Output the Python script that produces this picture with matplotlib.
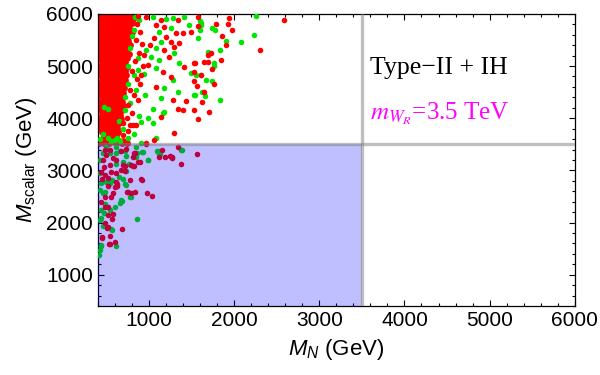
import numpy as np
import matplotlib as mpl
mpl.use("Agg")
import matplotlib.pyplot as plt
from matplotlib.ticker import MultipleLocator

# W_R mass bound (GeV), used for the excluded box and guide lines
mwr = 3500.0
xlim = (400, 6000)
ylim = (400, 6000)

# dense red cluster at small M_N, rows of (M_scalar, [M_N values])
red_dense_rows = [
    (5985, [410, 460, 515, 570, 625, 680, 735, 790, 835]),
    (5905, [430, 485, 540, 600, 650, 705, 760, 810]),
    (5820, [410, 465, 520, 575, 630, 685, 740, 800]),
    (5735, [435, 490, 545, 600, 655, 710, 770]),
    (5655, [415, 470, 525, 580, 635, 690, 745, 800]),
    (5570, [440, 495, 550, 605, 660, 715, 770]),
    (5485, [420, 475, 530, 585, 640, 695, 750]),
    (5400, [445, 500, 555, 610, 665, 720, 775]),
    (5320, [415, 470, 525, 580, 635, 690, 740]),
    (5235, [440, 495, 550, 605, 660, 715, 765]),
    (5150, [420, 475, 530, 585, 640, 695, 745]),
    (5070, [445, 500, 555, 610, 665, 720]),
    (4985, [415, 470, 525, 580, 635, 690, 740]),
    (4900, [440, 495, 550, 605, 660, 715]),
    (4820, [420, 475, 530, 585, 640, 695, 735]),
    (4735, [445, 500, 555, 610, 665, 715]),
    (4650, [415, 470, 525, 580, 635, 690]),
    (4570, [440, 495, 550, 605, 660, 710]),
    (4485, [420, 475, 530, 585, 640, 690]),
    (4400, [445, 500, 555, 610, 665, 700]),
    (4320, [415, 470, 525, 580, 635, 685]),
    (4235, [440, 495, 550, 605, 655, 690]),
    (4150, [420, 475, 530, 585, 635, 680]),
    (4070, [445, 500, 555, 610, 660]),
    (3985, [415, 470, 525, 580, 630, 670]),
    (3900, [440, 495, 550, 600, 650]),
    (3820, [420, 475, 530, 585, 625]),
    (3735, [445, 500, 555, 600, 640]),
    (3650, [470, 525, 575, 615]),
    (3570, [440, 500, 550, 590, 650, 700]),
    (3525, [410, 470, 530, 610, 680, 740]),
]

# scattered red points (M_N, M_scalar)
red_x = [1940, 2582, 1579, 1789, 1929, 1976, 1859, 1906, 2302, 1727, 1691,
         1843, 1544, 1649, 1695, 1742, 1532, 1765, 1532, 1567, 1649, 1625,
         1707, 1579,
         870, 968, 1084, 1143, 1337, 1571, 1182, 1318, 1396, 1493, 1201,
         1065, 1259, 1357, 1007, 1182, 1299, 948, 1240, 1415, 1532, 987,
         1162, 910, 1259, 1610,
         1084, 1435, 1532, 1396, 1337, 1279, 1143, 851, 812, 775, 1299,
         1065, 968,
         860, 900, 850, 920, 880, 840, 930, 800, 860, 900, 780, 820, 870,
         760, 800, 740, 700, 760, 690,
         # below the bound
         1337, 1563, 1376, 1267, 1194, 1124, 1155, 832, 870, 823, 910, 979,
         1037, 839, 785, 754, 688, 695, 715, 781, 625, 579, 579, 520, 482,
         570, 520, 450, 540, 598, 540,
         482, 540, 676, 727, 820, 1253, 1271, 890, 793, 812, 723, 676, 610,
         552, 489, 520, 610, 921, 454, 520, 629, 746, 489, 559, 443, 482,
         520, 513, 454, 532, 812, 618, 462, 540, 443, 579, 501, 470, 598,
         968]
red_y = [5930, 5885, 5776, 5808, 5808, 5693, 5578, 5405, 5310, 5246, 5208,
         5118, 5067, 5080, 5080, 4945, 4882, 4657, 4715, 4619, 4510, 4312,
         4126, 3986,
         5960, 5948, 5789, 5885, 5885, 5948, 5757, 5629, 5629, 5661, 5565,
         5533, 5469, 5437, 5405, 5310, 5373, 5214, 5181, 4990, 5054, 5022,
         4894, 4830, 4798, 4830,
         4606, 4337, 4158, 4158, 4171, 4350, 4030, 3871, 3871, 3871, 3711,
         3583, 3520,
         5800, 5650, 5500, 5420, 5250, 5100, 5000, 4900, 4750, 4650, 4550,
         4450, 4350, 4250, 4100, 4000, 3900, 3750, 3680,
         3443, 3315, 3123, 3251, 3264, 3251, 3392, 3328, 3168, 3085, 2830,
         2561, 2516, 2593, 2574, 2593, 1882, 3104, 2996, 2820, 2734, 2574,
         2164, 2145, 1997, 2062, 1908, 1717, 1742, 1633, 1589,
         3392, 3392, 3379, 3405, 3340, 3283, 3245, 3168, 3104, 3085, 3091,
         3008, 2944, 2976, 2912, 2848, 2784, 2816, 2830, 2707, 2701, 2593,
         2484, 2484, 2400, 2305, 2305, 1901, 1711, 1589, 3264, 3200, 3200,
         3104, 2976, 3232, 3296, 3072, 2688,
         3507]

# green points (M_N, M_scalar)
green_x = [2252, 1610, 1602, 1598, 1742, 1777, 2232, 1579, 1906, 2081, 1836,
           1695, 1765, 1765, 1555, 1614, 1672, 1742, 1660, 1544, 1836,
           832, 1045, 1201, 1279, 1415, 1474, 1610, 1259, 1124, 1143, 1084,
           1299, 1026, 1124, 1357, 1084, 870, 1493,
           1182, 1279, 1337, 1532, 1629, 1143, 1045, 1162, 1182, 987, 1045,
           910, 1084, 754, 598, 910,
           830, 880, 800, 780, 870, 960, 760, 820, 940, 760, 850, 720, 780,
           950, 720, 880, 650, 700, 830, 620, 520, 460, 430, 560, 660, 470,
           520,
           # below the bound
           851, 1376, 1096, 1124, 921, 987, 785, 862, 715, 723, 676, 598,
           566, 610, 435,
           657, 618, 540, 727, 843, 863, 928, 1104, 1135, 1384, 995, 765,
           695, 618, 734, 648, 695, 570, 540, 493, 443, 727, 423, 482, 664,
           688, 781, 482, 540, 443, 473, 443, 423, 462, 559, 443, 423, 415,
           462, 423, 431, 501, 610, 462]
green_y = [5950, 5795, 5866, 5693, 5738, 5693, 5597, 5545, 5482, 5463, 5310,
           5271, 5054, 5009, 4830, 4830, 4734, 4715, 4427, 4446, 4350,
           5948, 5936, 5898, 5917, 5948, 5789, 5821, 5725, 5661, 5469, 5342,
           5246, 5181, 5118, 5054, 4958, 4926, 4862,
           4574, 4734, 4510, 4446, 4510, 4382, 4177, 4094, 4120, 4011, 3903,
           3935, 3616, 3616, 3583, 3530,
           5700, 5880, 5580, 5350, 5150, 5300, 5000, 4820, 4850, 4650, 4550,
           4400, 4300, 4450, 4150, 4050, 3950, 3800, 3700, 3620, 3620, 3700,
           3600, 3560, 3560, 4220, 4180,
           3456, 3392, 3372, 3315, 3347, 3200, 2497, 2068, 3366, 2734, 2427,
           2293, 1858, 1550, 1550,
           3379, 3328, 3328, 3283, 3264, 3328, 3360, 3379, 3315, 3392, 3200,
           3123, 3168, 3123, 2989, 2880, 2830, 2816, 2765, 2784, 2752, 2720,
           2630, 2593, 2369, 2420, 2497, 2356, 2241, 2241, 2190, 2081, 2049,
           1933, 1870, 1569, 1473, 1377, 2561, 2944, 3200, 3456, 3456, 3328]

xticks = [1000, 2000, 3000, 4000, 5000, 6000]
yticks = [1000, 2000, 3000, 4000, 5000, 6000]

red_dense_x = [x for _, row in red_dense_rows for x in row]
red_dense_y = [y for y, row in red_dense_rows for _ in row]

plt.rcParams['font.family'] = ['Liberation Sans', 'DejaVu Sans']
plt.rcParams['mathtext.fontset'] = 'custom'
plt.rcParams['mathtext.rm'] = 'Liberation Sans'
plt.rcParams['mathtext.it'] = 'Liberation Sans:italic'

fig = plt.figure(figsize=(6, 3.75), dpi=100)
ax = fig.add_axes([0.163, 0.184, 0.795, 0.779])

ms = 16
# the cluster is drawn with fatter dots so it reads as one solid block
ax.scatter(red_dense_x, red_dense_y, s=24, c='#ff0000', lw=0, zorder=2)
ax.scatter(green_x, green_y, s=ms, c='#00e600', lw=0, zorder=3)
ax.scatter(red_x, red_y, s=ms, c='#ff0000', lw=0, zorder=4)

# excluded region, drawn over the points
ax.fill_between([xlim[0], mwr], ylim[0], mwr, color='blue', alpha=0.25,
                lw=0, zorder=5)
ax.axvline(mwr, color='gray', lw=2.4, alpha=0.5, zorder=6)
ax.axhline(mwr, color='gray', lw=2.4, alpha=0.5, zorder=6)

ax.text(3600, 4960, 'Type\u2212II + IH', fontsize=18.5,
        family=['Liberation Serif', 'DejaVu Serif'], ha='left', va='center',
        zorder=7)
ax.text(3600, 3975, r'$m_{W_R}$=3.5 TeV', fontsize=18, color='#ff00ff',
        family=['Liberation Serif', 'DejaVu Serif'], math_fontfamily='stix',
        ha='left', va='baseline', zorder=7)

ax.set_xlim(*xlim)
ax.set_ylim(*ylim)
ax.set_xticks(xticks)
ax.set_yticks(yticks)
ax.xaxis.set_minor_locator(MultipleLocator(200))
ax.yaxis.set_minor_locator(MultipleLocator(200))
ax.tick_params(which='both', direction='in', top=True, right=True,
               labelsize=15, width=0.8)
ax.tick_params(which='major', length=4)
ax.tick_params(which='minor', length=2.5)
for sp in ax.spines.values():
    sp.set_linewidth(0.9)

ax.set_xlabel(r'$M_N$ (GeV)', fontsize=16, labelpad=5)
ax.set_ylabel(r'$M_{\mathrm{scalar}}$ (GeV)', fontsize=16, labelpad=5)

fig.savefig('out.png', dpi=100)
